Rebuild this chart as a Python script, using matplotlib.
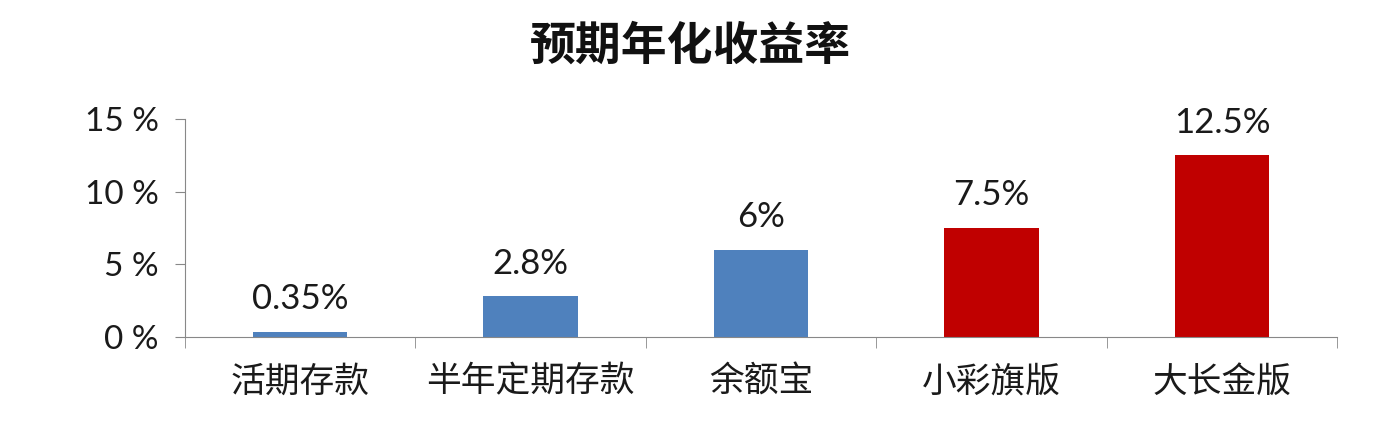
import numpy as np
import matplotlib
matplotlib.use("Agg")
import matplotlib.pyplot as plt
from matplotlib.ticker import FixedLocator

plt.rcParams['font.family'] = ['Noto Sans CJK SC', 'DejaVu Sans']

categories = ["活期存款", "半年定期存款", "余额宝", "小彩旗版", "大长金版"]
values = [0.35, 2.8, 6, 7.5, 12.5]
value_labels = ["0.35%", "2.8%", "6%", "7.5%", "12.5%"]
colors = ["#4F81BD", "#4F81BD", "#4F81BD", "#C00000", "#C00000"]
yticks = [0, 5, 10, 15]
ytick_labels = ["0 %", "5 %", "10 %", "15 %"]

num_font = ['Lato', 'Noto Sans CJK SC', 'DejaVu Sans']

fig = plt.figure(figsize=(13.8, 4.22), dpi=100)
ax = fig.add_axes([0.134, 0.2014, 0.835, 0.5166])

x = np.arange(len(categories))
ax.bar(x, values, width=0.41, color=colors)

for xi, v, lab in zip(x, values, value_labels):
    ax.annotate(lab, (xi, v), xytext=(0, 12), textcoords="offset points",
                ha="center", va="bottom", fontsize=25, color="#1a1a1a",
                family=num_font)

ax.set_xlim(-0.5, len(categories) - 0.5)
ax.set_ylim(0, 15)
ax.set_yticks(yticks)
ax.set_yticklabels(ytick_labels, fontsize=24, color="#1a1a1a",
                   family=num_font)
ax.set_xticks(x)
ax.set_xticklabels(categories, fontsize=25, color="#1a1a1a")
ax.xaxis.set_minor_locator(FixedLocator(np.arange(-0.5, len(categories), 1.0)))
ax.tick_params(axis="x", which="major", length=0, pad=20)
ax.tick_params(axis="x", which="minor", length=8, direction="out", color="#888888")
ax.tick_params(axis="y", length=7, color="#888888", pad=12)

for s in ["top", "right"]:
    ax.spines[s].set_visible(False)
ax.spines["left"].set_color("#888888")
ax.spines["bottom"].set_color("#888888")

fig.text(0.5, 0.89, "预期年化收益率", ha="center", va="center",
         fontsize=33, fontweight="bold", color="#111111")

fig.savefig("out.png", dpi=100)
